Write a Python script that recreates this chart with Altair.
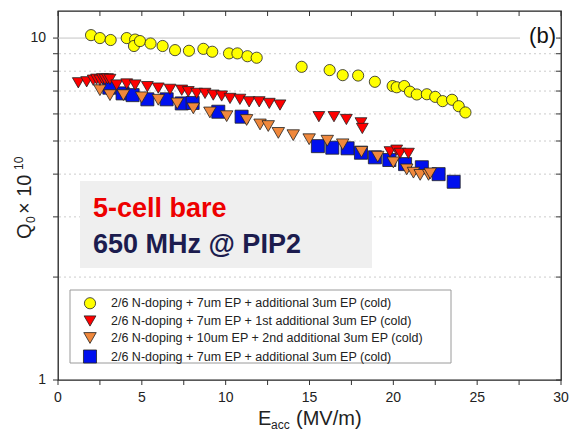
import altair as alt
import pandas as pd

# ---------------- data ----------------
yellow_x = [1.97, 2.5, 3.14, 4.1, 4.6, 4.53, 4.89, 5.52, 6.24, 6.98, 7.81, 8.67, 9.2, 10.2, 10.7,
            11.3, 11.85, 14.53, 16.2, 16.98, 17.9, 18.9, 19.96, 20.2, 20.65, 20.99, 21.4, 22.0,
            22.5, 22.94, 23.5, 23.9, 24.3]
yellow_y = [10.2, 10.0, 9.87, 10.0, 9.9, 9.48, 9.8, 9.64, 9.48, 9.22, 9.18, 9.3, 9.12, 9.02, 9.02,
            8.85, 8.76, 8.24, 8.06, 7.79, 7.77, 7.45, 7.24, 7.18, 7.24, 6.97, 6.84, 6.85,
            6.73, 6.54, 6.6, 6.32, 6.06]

red_x = [1.21, 1.71, 2.1, 2.3, 2.5, 2.65, 2.8, 2.95, 3.1, 3.5, 4.1, 4.6, 5.33, 5.98, 6.68, 7.38,
         7.77, 8.27, 8.77, 9.26, 9.76, 10.26, 10.85, 11.4, 12.0, 12.6, 13.24, 15.56, 16.46, 17.2,
         18.07, 18.15, 19.8, 20.2, 20.4, 20.9]
red_y = [7.4, 7.45, 7.53, 7.58, 7.53, 7.6, 7.57, 7.6, 7.57, 7.29, 7.34, 7.29, 7.21, 7.14, 7.08, 7.04,
         6.97, 6.89, 6.89, 6.81, 6.77, 6.66, 6.62, 6.51, 6.51, 6.44, 6.37, 5.89, 5.89, 5.78,
         5.65, 5.44, 4.65, 4.7, 4.6, 4.6]

orange_x = [2.5, 3.1, 3.9, 4.99, 5.98, 7.11, 8.07, 9.06, 10.06, 11.25, 12.05, 12.54, 13.14, 14.03,
            14.98, 16.06, 16.98, 18.1, 19.07, 20.0, 20.8, 21.2, 21.6, 22.1, 22.2]
orange_y = [7.04, 6.81, 6.81, 6.71, 6.6, 6.44, 6.23, 6.06, 5.91, 5.76, 5.59, 5.53, 5.28, 5.2,
            5.06, 5.01, 4.89, 4.65, 4.5, 4.33, 4.13, 4.04, 3.98, 3.98, 4.02]

blue_x = [3.06, 3.85, 4.45, 5.33, 6.48, 7.38, 8.03, 9.56, 10.95, 15.5, 16.36, 17.27, 18.07, 18.9,
          19.76, 20.7, 21.7, 22.7, 23.6]
blue_y = [7.16, 6.89, 6.81, 6.62, 6.62, 6.44, 6.46, 6.09, 5.89, 4.83, 4.78, 4.76, 4.62, 4.48,
          4.4, 4.28, 4.19, 4.0, 3.8]

series_keys = ["s0", "s1", "s2", "s3"]
series_labels = [
    "2/6 N-doping + 7um EP + additional 3um EP (cold)",
    "2/6 N-doping + 7um EP + 1st additional 3um EP (cold)",
    "2/6 N-doping + 10um EP + 2nd additional 3um EP (cold)",
    "2/6 N-doping + 7um EP + additional 3um EP (cold)",
]
series_colors = ["#ffff00", "#ff0000", "#f0883c", "#0010ee"]
series_shapes = ["circle", "triangle-down", "triangle-down", "square"]
series_sizes = [125, 170, 170, 130]

x_labels = [0, 5, 10, 15, 20, 25, 30]
x_ticks = [0, 2.5, 5, 7.5, 10, 12.5, 15, 17.5, 20, 22.5, 25, 27.5, 30]
y_labels = [1, 10]
y_ticks = [1, 2, 3, 4, 5, 6, 7, 8, 9, 10]
y_grid_dotted = [2, 3, 4, 5, 6, 7, 8, 9]
y_grid_solid = [10]

# drawing order: blue, orange, red, yellow (yellow on top)
rows = []
for key, xs, ys in [("s3", blue_x, blue_y), ("s2", orange_x, orange_y),
                    ("s1", red_x, red_y), ("s0", yellow_x, yellow_y)]:
    for a, b in zip(xs, ys):
        rows.append({"E": a, "Q": b, "series": key})
df = pd.DataFrame(rows)

W, H = 503, 369
FONT = "Liberation Sans"

xscale = alt.Scale(domain=[0, 30], nice=False, zero=False)
yscale = alt.Scale(type="log", domain=[1, 12], nice=False)

label_expr = " : ".join(
    f"datum.value == '{k}' ? '{l}'" for k, l in zip(series_keys, series_labels)
) + " : ''"

legend = alt.Legend(
    title=None, orient="none", legendX=25, legendY=286, direction="vertical",
    labelExpr=label_expr, labelFont=FONT, labelFontSize=12.5, labelColor="#222", labelLimit=500,
    symbolStrokeColor="#222", symbolStrokeWidth=0.8, symbolSize=120,
    labelOffset=14, rowPadding=2.5, padding=0, fillColor="transparent", strokeColor="transparent",
)

one = pd.DataFrame({"a": [0]})

# grid lines
grid_dotted = alt.Chart(pd.DataFrame({"v": y_grid_dotted})).mark_rule(
    color="#cccccc", strokeDash=[2, 3], strokeWidth=1
).encode(y=alt.Y("v:Q", scale=yscale, axis=None))
grid_solid = alt.Chart(pd.DataFrame({"v": y_grid_solid})).mark_rule(
    color="#c4c4c4", strokeWidth=1
).encode(y=alt.Y("v:Q", scale=yscale, axis=None))

# white patch behind "(b)"
b_patch = alt.Chart(one).mark_rect(color="white").encode(
    x=alt.value(462), x2=alt.value(501), y=alt.value(14), y2=alt.value(36)
)
b_text = alt.Chart(one).mark_text(
    text="(b)", font=FONT, fontSize=22, align="right", baseline="alphabetic", color="#111"
).encode(x=alt.value(498), y=alt.value(32))

# annotation box
ann_box = alt.Chart(one).mark_rect(color="#efefef").encode(
    x=alt.value(22), x2=alt.value(314), y=alt.value(170), y2=alt.value(257)
)
ann1 = alt.Chart(one).mark_text(
    text="5-cell bare", font=FONT, fontSize=27, fontWeight="bold", align="left",
    baseline="alphabetic", color="#ee0000"
).encode(x=alt.value(35), y=alt.value(206))
ann2 = alt.Chart(one).mark_text(
    text="650 MHz @ PIP2", font=FONT, fontSize=27, fontWeight="bold", align="left",
    baseline="alphabetic", color="#1c1c4e"
).encode(x=alt.value(35), y=alt.value(242))

# legend box
leg_box = alt.Chart(one).mark_rect(fill="white", stroke="#9a9a9a", strokeWidth=1).encode(
    x=alt.value(12), x2=alt.value(393), y=alt.value(279), y2=alt.value(352)
)

points = alt.Chart(df).mark_point(filled=True, stroke="#222", strokeWidth=0.8, opacity=1).encode(
    x=alt.X("E:Q", scale=xscale, axis=None),
    y=alt.Y("Q:Q", scale=yscale, axis=None),
    color=alt.Color("series:N", scale=alt.Scale(domain=series_keys, range=series_colors), legend=legend),
    shape=alt.Shape("series:N", scale=alt.Scale(domain=series_keys, range=series_shapes), legend=legend),
    size=alt.Size("series:N", scale=alt.Scale(domain=series_keys, range=series_sizes), legend=None),
)

# ticks: outward on bottom/left, inward on top/right
xt_df = pd.DataFrame({"v": x_ticks})
yt_df = pd.DataFrame({"v": y_ticks})
bottom_ticks = alt.Chart(xt_df).mark_rule(color="#333", strokeWidth=1).encode(
    x=alt.X("v:Q", scale=xscale, axis=None), y=alt.value(H), y2=alt.value(H + 5)
)
top_ticks = alt.Chart(xt_df).mark_rule(color="#333", strokeWidth=1).encode(
    x=alt.X("v:Q", scale=xscale, axis=None), y=alt.value(0), y2=alt.value(5)
)
left_ticks = alt.Chart(yt_df).mark_rule(color="#333", strokeWidth=1).encode(
    y=alt.Y("v:Q", scale=yscale, axis=None), x=alt.value(-5), x2=alt.value(0)
)
right_ticks = alt.Chart(yt_df).mark_rule(color="#333", strokeWidth=1).encode(
    y=alt.Y("v:Q", scale=yscale, axis=None), x=alt.value(W - 5), x2=alt.value(W)
)

# tick labels
x_tick_labels = alt.Chart(pd.DataFrame({"v": x_labels})).mark_text(
    font=FONT, fontSize=14, color="#222", align="center", baseline="top"
).encode(x=alt.X("v:Q", scale=xscale, axis=None), y=alt.value(H + 11), text=alt.Text("v:Q", format="d"))
y_tick_labels = alt.Chart(pd.DataFrame({"v": y_labels})).mark_text(
    font=FONT, fontSize=14, color="#222", align="right", baseline="middle"
).encode(y=alt.Y("v:Q", scale=yscale, axis=None), x=alt.value(-12), text=alt.Text("v:Q", format="d"))

# axis titles
xt1 = alt.Chart(one).mark_text(text="E", font=FONT, fontSize=20, align="left",
                               baseline="alphabetic", color="#222").encode(x=alt.value(200), y=alt.value(414))
xt2 = alt.Chart(one).mark_text(text="acc", font=FONT, fontSize=12, align="left",
                               baseline="alphabetic", color="#222").encode(x=alt.value(213), y=alt.value(418))
xt3 = alt.Chart(one).mark_text(text="(MV/m)", font=FONT, fontSize=20, align="left",
                               baseline="alphabetic", color="#222").encode(x=alt.value(238), y=alt.value(414))

yt1 = alt.Chart(one).mark_text(text="Q", font=FONT, fontSize=20, angle=270, align="left",
                               baseline="alphabetic", color="#222").encode(x=alt.value(-27), y=alt.value(228))
yt2 = alt.Chart(one).mark_text(text="0", font=FONT, fontSize=12, angle=270, align="left",
                               baseline="alphabetic", color="#222").encode(x=alt.value(-23), y=alt.value(212))
yt3 = alt.Chart(one).mark_text(text="× 10", font=FONT, fontSize=20, angle=270, align="left",
                               baseline="alphabetic", color="#222").encode(x=alt.value(-27), y=alt.value(203))
yt4 = alt.Chart(one).mark_text(text="10", font=FONT, fontSize=12, angle=270, align="left",
                               baseline="alphabetic", color="#222").encode(x=alt.value(-35), y=alt.value(159))

chart = alt.layer(
    grid_dotted, grid_solid, b_patch, ann_box, ann1, ann2, leg_box, points,
    bottom_ticks, top_ticks, left_ticks, right_ticks, x_tick_labels, y_tick_labels, b_text,
    xt1, xt2, xt3, yt1, yt2, yt3, yt4,
).properties(
    width=W, height=H,
    autosize=alt.AutoSizeParams(type="none"),
    padding={"left": 58, "top": 11, "right": 16, "bottom": 60},
    background="white",
).configure_view(stroke="#222", strokeWidth=1.3)

chart.save("out.html", embed_options={"renderer": "svg", "actions": False})
